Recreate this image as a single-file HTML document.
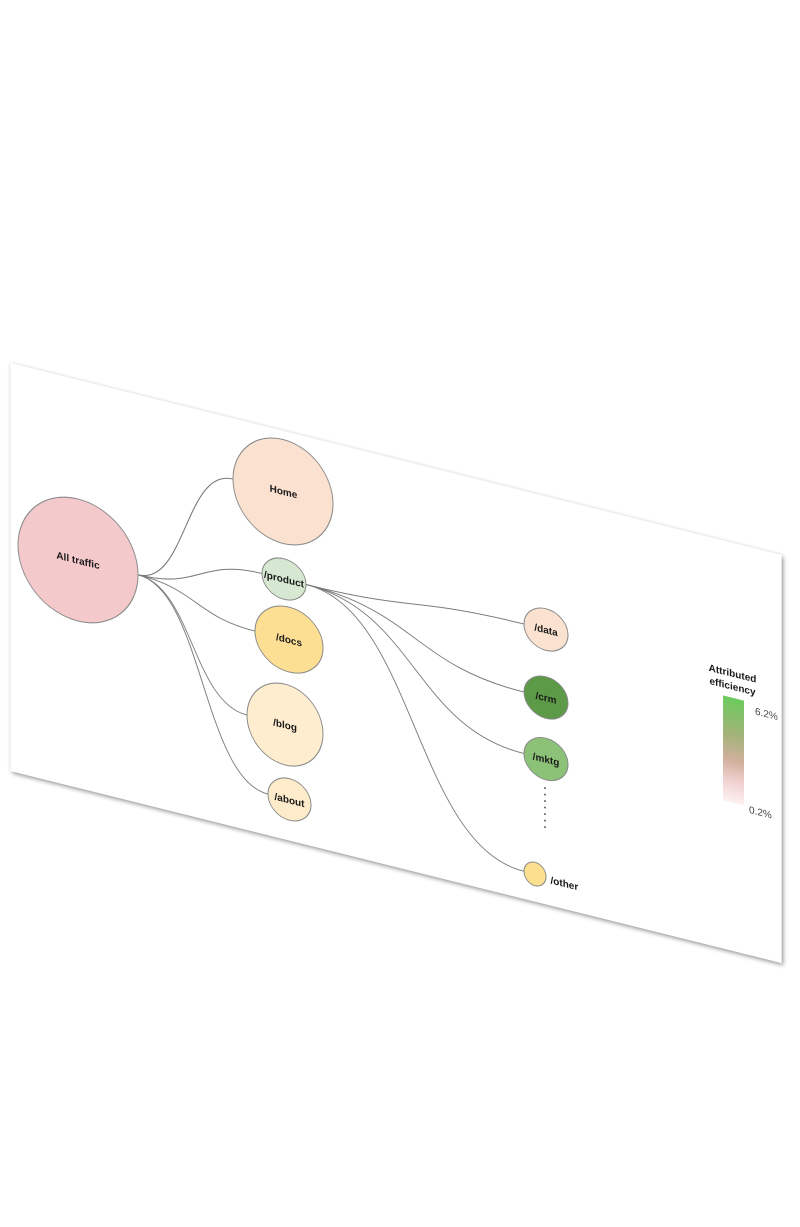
<!DOCTYPE html>
<html>
<head>
<meta charset="utf-8">
<style>
  html, body { margin: 0; padding: 0; background: #ffffff; }
  body { width: 800px; height: 1227px; overflow: hidden; }
  svg { display: block; }
  .lbl { font-family: "Liberation Sans", Arial, sans-serif; font-weight: bold; font-size: 10px; fill: #1a1a1a; text-anchor: middle; }
  .leg { font-family: "Liberation Sans", Arial, sans-serif; font-size: 10px; fill: #444; }
  .node { stroke: #8a8a8a; stroke-width: 1; }
  .edge { fill: none; stroke: #7a7a7a; stroke-width: 1; }
</style>
</head>
<body>
<svg width="800" height="1227" viewBox="0 0 800 1227" xmlns="http://www.w3.org/2000/svg">
  <defs>
    <filter id="sh" x="-5%" y="-10%" width="110%" height="120%">
      <feDropShadow dx="1.5" dy="1.5" stdDeviation="2.4" flood-color="#000" flood-opacity="0.45"/>
    </filter>
    <linearGradient id="grad" x1="0" y1="0" x2="0" y2="1">
      <stop offset="0" stop-color="#6bcb5c"/>
      <stop offset="0.35" stop-color="#a4b37a"/>
      <stop offset="0.6" stop-color="#d2b09e"/>
      <stop offset="0.8" stop-color="#f1d2d1"/>
      <stop offset="1" stop-color="#fdf1f1"/>
    </linearGradient>
  </defs>
  <rect x="0" y="0" width="800" height="1227" fill="#ffffff"/>
  <g transform="matrix(1,0.249,0,1,10.5,363)">
    <rect x="0" y="0" width="771" height="408" fill="#ffffff" filter="url(#sh)"/>

    <!-- edges from All traffic -->
    <path class="edge" d="M127.5,180 C175,180 175,60.6 222.5,60.6"/>
    <path class="edge" d="M127.5,180 C189.5,180 189.5,147.9 251.5,147.9"/>
    <path class="edge" d="M127.5,180 C186,180 186,207.2 244.5,207.2"/>
    <path class="edge" d="M127.5,180 C182,180 182,293.2 236.5,293.2"/>
    <path class="edge" d="M127.5,180 C192.5,180 192.5,367 257.5,367"/>

    <!-- edges from /product -->
    <path class="edge" d="M295.5,147.9 C404.5,147.9 404.5,133.2 513.5,133.2"/>
    <path class="edge" d="M295.5,147.9 C404.5,147.9 404.5,201.2 513.5,201.2"/>
    <path class="edge" d="M295.5,147.9 C404.5,147.9 404.5,262.7 513.5,262.7"/>
    <path class="edge" d="M295.5,147.9 C404.5,147.9 404.5,380.4 513.5,380.4"/>

    <!-- nodes -->
    <ellipse class="node" cx="67.5" cy="180.2" rx="60" ry="61" fill="#f4c9cc"/>
    <ellipse class="node" cx="272.5" cy="60.6" rx="50" ry="52" fill="#fbe1cf"/>
    <ellipse class="node" cx="273.5" cy="147.9" rx="22" ry="20.3" fill="#d6e8d1"/>
    <ellipse class="node" cx="278.5" cy="207.2" rx="34" ry="32.4" fill="#fddf94"/>
    <ellipse class="node" cx="274.5" cy="293.2" rx="38" ry="40.4" fill="#feeecf"/>
    <ellipse class="node" cx="279" cy="367" rx="21.5" ry="20.8" fill="#fdebc9"/>
    <ellipse class="node" cx="535.5" cy="133.2" rx="22" ry="20.8" fill="#fbe1cf"/>
    <ellipse class="node" cx="535.5" cy="201.2" rx="22" ry="20.8" fill="#5c9a47"/>
    <ellipse class="node" cx="535.5" cy="262.7" rx="22" ry="20.8" fill="#8cc278"/>
    <ellipse class="node" cx="524.5" cy="380.4" rx="11" ry="11.7" fill="#fddf90"/>

    <!-- dots -->
    <g fill="#444">
      <circle cx="534.5" cy="292" r="0.9"/>
      <circle cx="534.5" cy="298.5" r="0.9"/>
      <circle cx="534.5" cy="305" r="0.9"/>
      <circle cx="534.5" cy="311.5" r="0.9"/>
      <circle cx="534.5" cy="318" r="0.9"/>
      <circle cx="534.5" cy="324.5" r="0.9"/>
      <circle cx="534.5" cy="331" r="0.9"/>
    </g>

    <!-- labels -->
    <text class="lbl" x="67.5" y="184">All traffic</text>
    <text class="lbl" x="273" y="64">Home</text>
    <text class="lbl" x="273.5" y="151.5">/product</text>
    <text class="lbl" x="278.5" y="211">/docs</text>
    <text class="lbl" x="274.5" y="297">/blog</text>
    <text class="lbl" x="279" y="371">/about</text>
    <text class="lbl" x="535.5" y="137">/data</text>
    <text class="lbl" x="535.5" y="205">/crm</text>
    <text class="lbl" x="535.5" y="266.5">/mktg</text>
    <text class="lbl" x="540" y="386" style="text-anchor:start">/other</text>

    <!-- legend -->
    <text class="lbl" x="722" y="134">Attributed</text>
    <text class="lbl" x="722" y="147">efficiency</text>
    <rect x="712.5" y="155" width="21" height="105" fill="url(#grad)"/>
    <text class="leg" x="744.5" y="166">6.2%</text>
    <text class="leg" x="738.5" y="266">0.2%</text>
  </g>
</svg>
</body>
</html>
